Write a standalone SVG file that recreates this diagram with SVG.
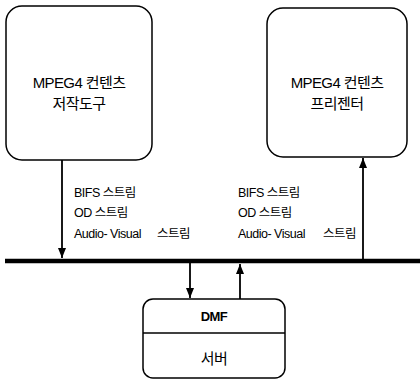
<svg xmlns="http://www.w3.org/2000/svg" width="420" height="383" viewBox="0 0 420 383">
<style>
.box{fill:#fff;stroke:#000;stroke-width:1.5}
.t{font-family:"Liberation Sans","Noto Sans CJK KR",sans-serif;fill:#000;text-anchor:middle;font-size:15px;letter-spacing:-0.6px}
.l{font-family:"Liberation Sans","Noto Sans CJK KR",sans-serif;fill:#000;font-size:12.5px;letter-spacing:-0.5px}
.c{stroke:#000;stroke-width:1.8;fill:none}
</style>
<defs>
<marker id="ah" viewBox="0 0 10 10" refX="10" refY="5" markerWidth="10" markerHeight="10" markerUnits="userSpaceOnUse" orient="auto">
<path d="M0,1 L10,5 L0,9 Z" fill="#000"/>
</marker>
</defs>
<rect width="420" height="383" fill="#fff"/>
<g id="author">
<rect class="box" x="6" y="6" width="146" height="154" rx="16"/>
<text class="t" x="79" y="88">MPEG4 컨텐츠</text>
<text class="t" x="79" y="109">저작도구</text>
</g>
<g id="presenter">
<rect class="box" x="267" y="8" width="140" height="149" rx="16"/>
<text class="t" x="337" y="88">MPEG4 컨텐츠</text>
<text class="t" x="337" y="109">프리젠터</text>
</g>
<g id="server">
<rect class="box" x="143" y="299" width="142" height="79" rx="10"/>
<line x1="143" y1="333" x2="285" y2="333" stroke="#000" stroke-width="1.3"/>
<text class="t" x="214" y="321" style="font-weight:bold;font-size:13px">DMF</text>
<text class="t" x="214" y="364">서버</text>
</g>
<g id="labels">
<text class="l" x="74" y="197">BIFS 스트림</text>
<text class="l" x="74" y="217">OD 스트림</text>
<text class="l" x="74" y="238">Audio- Visual</text>
<text class="l" x="157" y="238">스트림</text>
<text class="l" x="238" y="197">BIFS 스트림</text>
<text class="l" x="238" y="217">OD 스트림</text>
<text class="l" x="238" y="238">Audio- Visual</text>
<text class="l" x="323" y="238">스트림</text>
</g>
<g id="connectors">
<line x1="5" y1="261" x2="420" y2="261" stroke="#000" stroke-width="4.5"/>
<line class="c" x1="62" y1="160" x2="62" y2="258" marker-end="url(#ah)"/>
<line class="c" x1="363" y1="259" x2="363" y2="158" marker-end="url(#ah)"/>
<line class="c" x1="190" y1="263" x2="190" y2="298" marker-end="url(#ah)"/>
<line class="c" x1="240" y1="299" x2="240" y2="264" marker-end="url(#ah)"/>
</g>
</svg>
